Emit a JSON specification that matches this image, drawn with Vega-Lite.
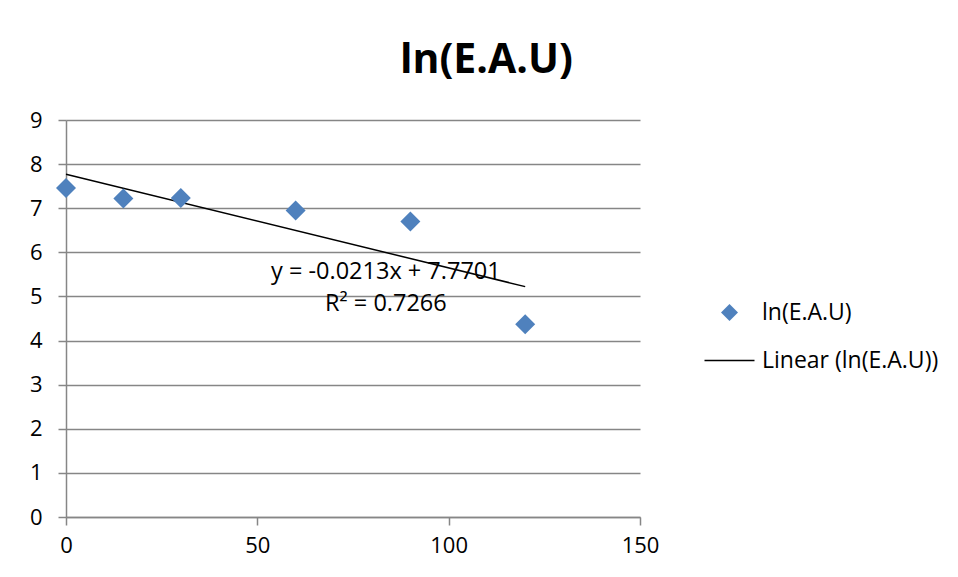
{
  "$schema": "https://vega.github.io/schema/vega-lite/v6.json",
  "width": 574,
  "height": 397,
  "autosize": "none",
  "padding": {"left": 66, "top": 120, "right": 318, "bottom": 60},
  "background": "white",
  "config": {"view": {"stroke": null}, "font": "Open Sans"},
  "title": {
    "text": "ln(E.A.U)",
    "font": "Open Sans",
    "fontSize": 41,
    "fontWeight": "bold",
    "color": "black",
    "anchor": "start",
    "frame": "group",
    "dx": 334,
    "offset": 27
  },
  "datasets": {
    "pts": [
      {"time": 0, "value": 7.46, "series": "ln(E.A.U)"},
      {"time": 15, "value": 7.22, "series": "ln(E.A.U)"},
      {"time": 30, "value": 7.23, "series": "ln(E.A.U)"},
      {"time": 60, "value": 6.95, "series": "ln(E.A.U)"},
      {"time": 90, "value": 6.70, "series": "ln(E.A.U)"},
      {"time": 120, "value": 4.37, "series": "ln(E.A.U)"}
    ],
    "ann": [
      {"time": 83.6, "value": 5.55, "label": "y = -0.0213x + 7.7701"},
      {"time": 83.6, "value": 4.82, "label": "R² = 0.7266"}
    ]
  },
  "encoding": {
    "x": {
      "field": "time",
      "type": "quantitative",
      "scale": {"domain": [0, 150], "nice": false},
      "axis": {
        "title": null,
        "values": [0, 50, 100, 150],
        "grid": false,
        "domainColor": "#868686",
        "domainWidth": 1.5,
        "tickColor": "#868686",
        "tickWidth": 1.5,
        "tickSize": 8,
        "labelFont": "Open Sans",
        "labelFontSize": 22,
        "labelColor": "black",
        "labelPadding": 10,
        "labelFlush": false
      }
    },
    "y": {
      "field": "value",
      "type": "quantitative",
      "scale": {"domain": [0, 9], "nice": false},
      "axis": {
        "title": null,
        "values": [0, 1, 2, 3, 4, 5, 6, 7, 8, 9],
        "grid": true,
        "gridColor": "#868686",
        "gridWidth": 1.5,
        "domainColor": "#868686",
        "domainWidth": 1.5,
        "tickColor": "#868686",
        "tickWidth": 1.5,
        "tickSize": 8,
        "labelFont": "Open Sans",
        "labelFontSize": 22,
        "labelColor": "black",
        "labelPadding": 16,
        "labelFlush": false
      }
    }
  },
  "layer": [
    {
      "data": {"name": "pts"},
      "transform": [{"regression": "value", "on": "time", "extent": [0, 120]}],
      "mark": {"type": "line", "color": "black", "strokeWidth": 1.5}
    },
    {
      "data": {"name": "pts"},
      "mark": {"type": "point", "filled": true, "opacity": 1, "size": 400},
      "encoding": {
        "color": {
          "field": "series",
          "type": "nominal",
          "scale": {"domain": ["ln(E.A.U)", "Linear (ln(E.A.U))"], "range": ["#4F81BD", "black"]},
          "legend": {
            "title": null,
            "orient": "none",
            "legendX": 652,
            "legendY": 181,
            "padding": 0,
            "symbolSize": 290,
            "labelFont": "Open Sans",
            "labelFontSize": 23,
            "labelColor": "black",
            "labelOffset": 21,
            "labelLimit": 400,
            "rowPadding": 24,
            "symbolOpacity": 1,
            "encode": {
              "symbols": {
                "update": {
                  "stroke": {"signal": "datum.value === 'Linear (ln(E.A.U))' ? 'black' : 'transparent'"},
                  "strokeWidth": {"value": 1.5},
                  "size": {"signal": "datum.value === 'Linear (ln(E.A.U))' ? 2500 : 290"}
                }
              }
            }
          }
        },
        "shape": {
          "field": "series",
          "type": "nominal",
          "scale": {"domain": ["ln(E.A.U)", "Linear (ln(E.A.U))"], "range": ["diamond", "stroke"]}
        }
      }
    },
    {
      "data": {"name": "ann"},
      "mark": {"type": "text", "font": "Open Sans", "fontSize": 23.5, "color": "black", "align": "center", "baseline": "middle"},
      "encoding": {"text": {"field": "label"}}
    }
  ]
}
